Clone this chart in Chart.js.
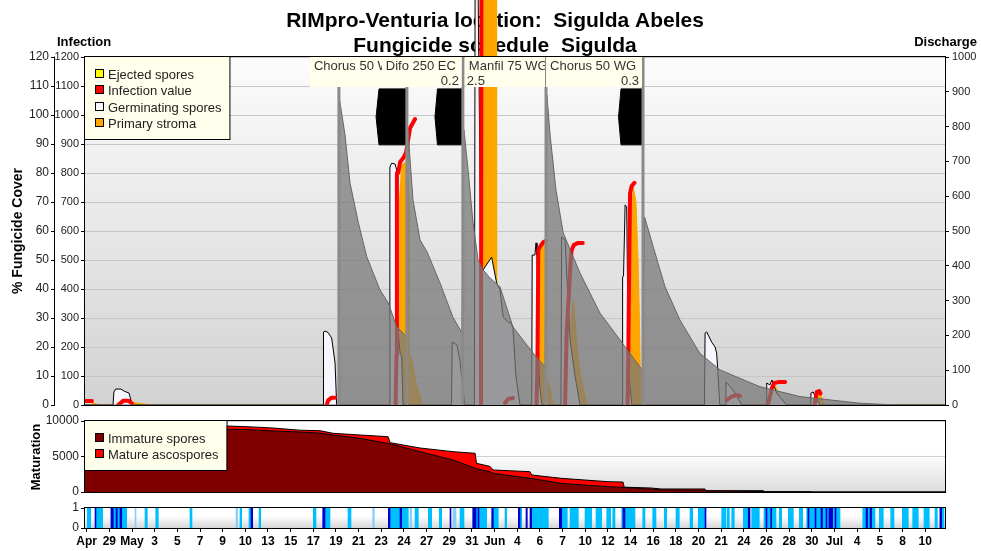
<!DOCTYPE html>
<html>
<head>
<meta charset="utf-8">
<title>RIMpro-Venturia location: Sigulda Abeles</title>
<script src="https://cdn.jsdelivr.net/npm/chart.js"></script>
<style>
  html, body { margin: 0; padding: 0; background: #fff; }
  #page { position: relative; width: 981px; height: 551px; overflow: hidden; }
  #page canvas { position: absolute; left: 0; }
  #mainChart { top: 0; }
  #matChart { top: 412px; }
  #stripChart { top: 496px; }
</style>
</head>
<body>
<div id="page">
  <canvas id="mainChart" width="981" height="420"></canvas>
  <canvas id="matChart" width="981" height="88"></canvas>
  <canvas id="stripChart" width="981" height="55"></canvas>
</div>
<script>
// ---------- time axis: one slot per printed date ----------
const dateLabels = ['Apr', '29', 'May', '3', '5', '7', '9', '10', '13', '15', '17', '19', '21', '23', '24', '27', '29', '31',
  'Jun', '4', '6', '7', '10', '12', '14', '16', '18', '20', '21', '24', '26', '28', '30', 'Jul', '4', '5', '8', '10'];
const X_MIN = -0.075, X_MAX = 37.877;

// ---------- fungicide applications ----------
const sprayDates = [11.13, 14.13, 16.6, 20.27, 24.55];
const products = ['Chorus 50 WG', 'Difo 250 EC', 'Manfil 75 WG', 'Chorus 50 WG'];
const doses = ['0.3', '0.2', '2.5', '0.3'];
const productSpray = [1, 2, 2, 4];

// ---------- infection panel: [slot, value] ----------
// % fungicide cover (left outer axis)
const fungicideCover = [[-0.075, 0], [11.12, 0], [11.16, 105.2], [11.40, 93.1], [11.62, 76.6], [11.99, 62.8], [12.36, 51.1],
  [12.94, 39.7], [13.31, 35.2], [13.68, 27.0], [14.12, 23.5], [14.18, 94.8], [14.27, 84.5], [14.40, 70.7], [14.71, 56.9],
  [15.02, 52.8], [15.59, 42.1], [16.16, 30.3], [16.56, 24.8], [16.65, 94.8], [16.83, 81.0], [17.05, 62.8], [17.27, 50.0],
  [17.49, 46.6], [17.80, 43.8], [18.24, 40.7], [18.81, 26.9], [19.70, 17.9], [20.23, 13.1], [20.31, 106.9], [20.45, 93.1],
  [20.71, 74.1], [21.03, 59.3], [21.77, 45.5], [22.65, 31.7], [23.54, 22.4], [24.42, 13.1], [24.53, 12.1], [24.62, 64.8],
  [25.00, 54.6], [25.52, 40.8], [26.18, 29.3], [27.06, 17.8], [27.95, 12.1], [29.71, 6.3], [31.48, 2.9], [34.13, 0.6],
  [35.75, 0], [37.877, 0]];

// infection axis (left inner)
const germinatingSpores = [[-0.075, 0],
  [1.16, 0], [1.20, 45], [1.28, 55], [1.51, 55], [1.65, 48], [1.87, 41], [1.95, 17], [2.04, 0],
  [10.43, 0], [10.45, 252], [10.52, 255], [10.65, 250], [10.81, 231], [10.96, 145], [11.03, 0],
  [13.35, 0], [13.38, 821], [13.46, 834], [13.61, 831], [13.68, 810], [13.70, 293], [13.83, 179], [13.90, 166], [13.96, 0],
  [16.10, 0], [16.13, 217], [16.34, 207], [16.47, 155], [16.61, 52], [16.69, 0],
  [17.11, 0], [17.14, 1450], [17.27, 1450], [17.40, 455], [17.87, 510], [18.09, 421], [18.24, 397], [18.38, 303],
  [18.61, 286], [18.71, 283], [18.81, 269], [18.94, 100], [19.12, 0],
  [19.64, 0], [19.66, 517], [19.78, 517], [19.83, 559], [19.87, 517], [19.93, 155], [20.00, 60], [20.09, 0],
  [20.93, 0], [20.96, 579], [21.11, 569], [21.18, 455], [21.33, 224], [21.55, 100], [21.77, 0],
  [23.64, 0], [23.65, 441], [23.69, 445], [23.76, 690], [23.83, 683], [23.90, 166], [23.98, 60], [24.06, 0],
  [27.26, 0], [27.29, 248], [27.36, 252], [27.58, 217], [27.73, 200], [27.80, 179], [27.84, 131], [27.94, 0],
  [28.19, 0], [28.21, 79], [28.52, 52], [28.91, 0],
  [29.99, 0], [30.01, 76], [30.15, 69], [30.24, 86], [30.45, 41], [30.89, 0],
  [31.94, 0], [31.96, 41], [32.06, 45], [32.14, 30], [32.36, 0],
  [37.877, 0]];

const infectionValue = [
  [-0.03, 14], [0.23, 14], [0.24, null],
  [1.39, 0], [1.62, 15], [1.84, 15], [1.99, 6], [2.00, null],
  [10.59, 0], [10.66, 17], [10.81, 25], [10.96, 25], [10.97, null],
  [13.63, 0], [13.67, 170], [13.69, 800], [13.75, 800], [13.83, 838], [13.97, 852], [14.09, 869], [14.19, 917],
  [14.27, 955], [14.49, 986], [14.50, null],
  [17.38, 0], [17.40, 100], [17.42, 1500], [17.49, 1550], [17.50, null],
  [18.46, 7], [18.60, 21], [18.81, 24], [18.82, null],
  [19.85, 0], [19.89, 131], [19.93, 534], [20.00, 545], [20.15, 562], [20.27, 566], [20.28, null],
  [21.11, 0], [21.18, 248], [21.36, 500], [21.40, 534], [21.50, 552], [21.69, 559], [21.89, 559], [21.90, null],
  [23.87, 0], [23.90, 166], [23.95, 550], [23.98, 731], [24.05, 755], [24.17, 766], [24.18, null],
  [28.24, 17], [28.46, 29], [28.69, 34], [28.83, 31], [28.84, null],
  [30.08, 5], [30.24, 59], [30.34, 76], [30.53, 79], [30.82, 79], [30.83, null],
  [32.12, 0], [32.22, 45], [32.33, 48], [32.38, 40]];

const primaryStroma = [[-0.075, 0],
  [0.23, 0], [0.28, 8], [0.45, 3], [0.50, 0],
  [1.78, 0], [1.83, 10], [2.13, 8], [2.35, 5], [2.71, 2], [2.75, 0],
  [13.78, 0], [13.80, 700], [13.90, 828], [14.05, 838], [14.19, 766], [14.23, 700], [14.24, 179], [14.36, 150],
  [14.53, 80], [14.71, 30], [14.85, 0],
  [17.47, 0], [17.48, 1500], [18.07, 1500], [18.09, 420], [18.15, 380], [18.24, 200], [18.37, 100], [18.50, 40], [18.68, 0],
  [19.96, 0], [19.97, 550], [20.08, 559], [20.15, 562], [20.22, 545], [20.23, 121], [20.40, 70], [20.59, 0],
  [21.33, 0], [21.38, 300], [21.48, 362], [21.64, 200], [21.77, 110], [22.07, 7], [22.12, 0],
  [23.98, 0], [24.00, 600], [24.12, 752], [24.24, 700], [24.33, 500], [24.39, 300], [24.43, 121], [24.46, 50], [24.51, 0],
  [30.24, 0], [30.29, 50], [30.37, 69], [30.46, 55], [30.60, 17], [30.69, 0],
  [32.23, 0], [32.27, 38], [32.36, 45], [32.45, 25], [32.53, 0],
  [37.877, 0]];

// discharge axis (right)
const ejectedSpores = [[-0.075, 0], [13.82, 0], [13.86, 30], [13.95, 0], [30.30, 0], [30.34, 12], [30.42, 0], [37.877, 0]];

// dark blocks ahead of the applications (upper and lower halves, meeting at the first value)
const coverBlockTop = [[12.77, 993], [12.90, 1090], [14.09, 1090], [14.09, 993], [14.10, null],
  [15.37, 993], [15.48, 1090], [16.58, 1090], [16.58, 993], [16.59, null],
  [23.47, 993], [23.58, 1090], [24.55, 1090], [24.55, 993]];
const coverBlockBottom = [[12.77, 993], [12.90, 897], [14.09, 897], [14.09, 993], [14.10, null],
  [15.37, 993], [15.48, 897], [16.58, 897], [16.58, 993], [16.59, null],
  [23.47, 993], [23.58, 897], [24.55, 897], [24.55, 993]];

// ---------- maturation panel ----------
const matDays = [-0.075, 6.19, 7.07, 8.22, 9.41, 10.30, 10.87, 12.06, 13.30, 13.39, 14.71, 16.17, 17.14, 17.20, 17.80,
  17.93, 19.56, 19.64, 20.93, 23.00, 23.67, 23.72, 24.91, 25.35, 27.28, 27.33, 29.85, 29.93, 31.92, 32.01, 37.877];
const immatureSpores = [9000, 8830, 8800, 8600, 8450, 8300, 8030, 7560, 6830, 6780, 5680, 4510, 3340, 3300, 2850,
  2630, 1930, 1900, 1220, 750, 650, 640, 400, 300, 250, 150, 60, 40, 0, 0, 0];
const matureAscospores = [400, 466, 397, 414, 250, 334, 238, 468, 959, 170, 517, 1166, 2111, 742, 750,
  469, 929, 494, 710, 701, 750, 40, 160, 123, 173, 33, 123, 2, 42, 0, 0];

// ---------- leaf wetness strip: [from, to] ----------
const wetDark = [[0.366, 0.410], [1.072, 1.174], [1.293, 1.350], [1.469, 1.545], [7.251, 7.326], [10.415, 10.516],
  [13.310, 13.385], [13.826, 13.901], [16.033, 16.077], [17.034, 17.180], [17.268, 17.312], [17.873, 17.944],
  [19.047, 19.122], [19.387, 19.444], [19.563, 19.638], [20.856, 20.962], [23.667, 23.755], [27.286, 27.330],
  [29.196, 29.271], [29.977, 30.021], [30.185, 30.229], [31.831, 31.875], [32.140, 32.184], [32.404, 32.471],
  [32.625, 32.669], [32.757, 32.921], [33.023, 33.067], [34.393, 34.459], [34.570, 34.636], [37.656, 37.731]];
const wetLight = [[0.026, 0.177], [0.410, 0.706], [1.072, 1.765], [2.573, 2.674], [3.045, 3.160], [4.559, 4.647],
  [6.765, 6.840], [7.162, 7.251], [7.604, 7.679], [10.000, 10.119], [10.516, 10.737], [11.531, 11.664],
  [13.385, 14.193], [14.489, 14.634], [15.075, 15.225], [15.560, 15.666], [16.474, 16.651], [17.180, 17.652],
  [17.944, 18.164], [18.460, 18.535], [19.122, 19.197], [19.638, 20.371], [20.962, 21.209], [21.329, 21.695],
  [21.990, 22.286], [22.476, 22.727], [22.948, 23.124], [23.213, 23.314], [23.610, 24.197], [24.537, 24.638],
  [24.978, 25.124], [25.490, 25.596], [26.006, 26.152], [26.624, 26.743], [26.990, 27.286], [28.023, 28.213],
  [28.270, 28.358], [28.464, 28.579], [28.976, 29.196], [29.346, 29.682], [29.889, 30.419], [30.565, 30.670],
  [30.962, 31.183], [31.447, 31.597], [31.774, 33.243], [34.245, 34.788], [34.977, 35.154], [35.481, 35.626],
  [35.993, 36.257], [36.451, 36.698], [36.950, 37.184], [37.436, 37.537], [37.656, 37.832]];
const wetPale = [[2.131, 2.176], [6.589, 6.664], [12.621, 12.692], [14.268, 14.343], [16.165, 16.297]];

// ---------- drawing ----------
const FONT = 'Arial, "Liberation Sans", sans-serif';
Chart.defaults.font.family = FONT;
Chart.defaults.color = '#222';

const INF_MAX = 1200, FUNG_MAX = 120, DIS_MAX = 1000;
// the value ranges run on above the frame so tall peaks reach into the heading
const HEADROOM = 1.1638;
const labelSide = ['before', 'before', 'after', 'before'];
const BOX_BG = '#ffffec';
const plainNumber = v => String(v);

function fixedAxis(width, ticks) {
  return {
    afterBuildTicks: s => { s.ticks = ticks.map(v => ({ value: v })); },
    afterFit: s => { s.width = width; s.paddingTop = 0; s.paddingBottom = 0; }
  };
}

function plotTop(chart, o) {
  return o.topScale ? chart.scales[o.topScale].getPixelForValue(o.topValue) : chart.chartArea.top;
}

function drawLegend(chart, top, labels) {
  const ctx = chart.ctx, left = chart.chartArea.left;
  ctx.save();
  ctx.font = '13px ' + FONT;
  const w = 23 + Math.max(...labels.map(l => ctx.measureText(l).width)) + 8;
  const h = 21.5 + 16.5 * (labels.length - 1) + 11;
  ctx.fillStyle = BOX_BG;
  ctx.fillRect(left, top, w, h);
  ctx.strokeStyle = '#000';
  ctx.lineWidth = 1;
  ctx.strokeRect(left - 0.5, top - 0.5, w + 1, h + 1);
  labels.forEach((lbl, i) => {
    const ds = chart.data.datasets.find(d => d.label === lbl);
    const base = Math.round(top + 21.5 + 16.5 * i);
    ctx.fillStyle = ds.backgroundColor;
    ctx.fillRect(left + 10, base - 10, 9, 9);
    ctx.strokeStyle = '#000';
    ctx.strokeRect(left + 10.5, base - 9.5, 8, 8);
    ctx.fillStyle = '#222';
    ctx.textAlign = 'left';
    ctx.textBaseline = 'alphabetic';
    ctx.fillText(lbl, left + 23, base);
  });
  ctx.restore();
}

function drawSprayLabels(chart, top) {
  const ctx = chart.ctx, x = chart.scales.x;
  ctx.save();
  ctx.font = '13px ' + FONT;
  ctx.textBaseline = 'alphabetic';
  products.forEach((name, i) => {
    const s = productSpray[i];
    const xs = x.getPixelForValue(sprayDates[s]);
    const w = ctx.measureText(name).width + 10;
    let l, r;
    if (labelSide[i] === 'before') { r = xs - 1; l = r - w; }
    else {
      l = xs + 2; r = l + w;
      if (s + 1 < sprayDates.length) r = Math.min(r, x.getPixelForValue(sprayDates[s + 1]) - 1);
    }
    ctx.save();
    ctx.beginPath();
    ctx.rect(l, top, r - l, 30);
    ctx.clip();
    ctx.fillStyle = BOX_BG;
    ctx.fillRect(l, top, r - l, 30);
    ctx.fillStyle = '#333';
    ctx.textAlign = 'left';
    ctx.fillText(name, l + 4, top + 13);
    if (labelSide[i] === 'before') { ctx.textAlign = 'right'; ctx.fillText(doses[i], r - 3, top + 28); }
    else { ctx.textAlign = 'left'; ctx.fillText(doses[i], l + 2, top + 28); }
    ctx.restore();
  });
  ctx.restore();
}

const panelPlugin = {
  id: 'panel',
  beforeDraw(chart, args, o) {
    const { ctx, chartArea: a } = chart;
    const top = plotTop(chart, o);
    const g = ctx.createLinearGradient(0, top, 0, a.bottom);
    o.gradient.forEach(s => g.addColorStop(s[0], s[1]));
    ctx.save();
    ctx.fillStyle = g;
    ctx.fillRect(a.left, top, a.right - a.left, a.bottom - top);
    ctx.restore();
  },
  beforeDatasetsDraw(chart, args, o) {
    const ctx = chart.ctx;
    (o.texts || []).forEach(t => {
      ctx.save();
      ctx.font = t.font;
      ctx.fillStyle = '#000';
      ctx.textAlign = t.align || 'left';
      ctx.textBaseline = t.rotate ? 'middle' : 'alphabetic';
      ctx.translate(t.x, t.y);
      if (t.rotate) ctx.rotate(-Math.PI / 2);
      ctx.fillText(t.text, 0, 0);
      ctx.restore();
    });
  },
  afterDatasetsDraw(chart, args, o) {
    const { ctx, chartArea: a } = chart;
    const top = plotTop(chart, o);
    if (o.sprayLabels) drawSprayLabels(chart, top);
    ctx.save();
    ctx.strokeStyle = '#000';
    ctx.lineWidth = 1;
    ctx.strokeRect(a.left - 0.5, top - 0.5, a.right - a.left + 1, a.bottom - top + 1);
    (o.outerAxes || []).forEach(id => {
      const sx = Math.round(chart.scales[id].right) - 0.5;
      ctx.beginPath();
      ctx.moveTo(sx, top - 0.5);
      ctx.lineTo(sx, a.bottom + 0.5);
      ctx.stroke();
    });
    ctx.restore();
    if (o.legend) drawLegend(chart, top, o.legend);
  }
};

const common = {
  responsive: false,
  animation: false,
  devicePixelRatio: 1,
  events: [],
  elements: { point: { radius: 0 }, line: { tension: 0 } }
};
const tickFont = size => ({ size: size, family: FONT });

// ----- infection / fungicide panel -----
const sprayLineData = sprayDates.flatMap(d => [[d, 0], [d, FUNG_MAX], [d, null]]);
const line = (extra) => Object.assign({ type: 'line', pointRadius: 0, xAxisID: 'x' }, extra);

new Chart(document.getElementById('mainChart'), {
  type: 'line',
  data: {
    datasets: [
      line({ label: 'Applications', data: sprayLineData, yAxisID: 'yFung', borderColor: '#8a8a8a', borderWidth: 3, fill: false, order: 0 }),
      line({ label: 'Fungicide cover', data: fungicideCover, yAxisID: 'yFung', borderColor: '#666', borderWidth: 1,
        backgroundColor: 'rgba(120,120,120,0.74)', fill: 'origin', order: 1 }),
      line({ label: 'Infection value', data: infectionValue, yAxisID: 'yInf', borderColor: '#ff0000', backgroundColor: '#ff0000',
        borderWidth: 4, borderCapStyle: 'round', borderJoinStyle: 'round', fill: false, order: 2 }),
      line({ label: 'Germinating spores', data: germinatingSpores, yAxisID: 'yInf', borderColor: '#000', borderWidth: 1,
        backgroundColor: '#f6f6ff', fill: 'origin', order: 3 }),
      line({ label: 'Primary stroma', data: primaryStroma, yAxisID: 'yInf', borderColor: '#ffa500', borderWidth: 1,
        backgroundColor: '#ffa500', fill: 'origin', order: 4 }),
      line({ label: 'Ejected spores', data: ejectedSpores, yAxisID: 'yDis', borderColor: 'rgba(0,0,0,0)', borderWidth: 1,
        backgroundColor: '#ffff00', fill: 'origin', order: 5 }),
      line({ label: 'Cover block', data: coverBlockTop, yAxisID: 'yInf', borderColor: '#000', borderWidth: 1,
        backgroundColor: '#000', fill: { value: coverBlockTop[0][1] }, order: 6 }),
      line({ label: 'Cover block lower', data: coverBlockBottom, yAxisID: 'yInf', borderColor: '#000', borderWidth: 1,
        backgroundColor: '#000', fill: { value: coverBlockBottom[0][1] }, order: 6 })
    ]
  },
  options: Object.assign({}, common, {
    layout: { padding: { top: 0, bottom: 15, left: 0, right: 0 } },
    scales: {
      x: { type: 'linear', min: X_MIN, max: X_MAX, display: false },
      yInf: Object.assign(fixedAxis(30, [0, 100, 200, 300, 400, 500, 600, 700, 800, 900, 1000, 1100, 1200]), {
        type: 'linear', position: 'left', weight: 0, min: 0, max: INF_MAX * HEADROOM,
        grid: { color: '#c6c6c6', lineWidth: 1, tickLength: 4, tickColor: '#000' },
        border: { display: false },
        ticks: { font: tickFont(11), color: '#222', padding: 2, callback: plainNumber }
      }),
      yFung: Object.assign(fixedAxis(55, [0, 10, 20, 30, 40, 50, 60, 70, 80, 90, 100, 110, 120]), {
        type: 'linear', position: 'left', weight: 1, min: 0, max: FUNG_MAX * HEADROOM,
        grid: { drawOnChartArea: false, tickLength: 4, tickColor: '#000' },
        border: { display: false },
        ticks: { font: tickFont(12), color: '#222', padding: 2, callback: plainNumber }
      }),
      yDis: Object.assign(fixedAxis(36, [0, 100, 200, 300, 400, 500, 600, 700, 800, 900, 1000]), {
        type: 'linear', position: 'right', min: 0, max: DIS_MAX * HEADROOM,
        grid: { drawOnChartArea: false, tickLength: 4, tickColor: '#000' },
        border: { display: false },
        ticks: { font: tickFont(11), color: '#222', padding: 3, callback: plainNumber }
      })
    },
    plugins: {
      legend: { display: false },
      tooltip: { enabled: false },
      panel: {
        gradient: [[0, '#fcfcfc'], [1, '#d2d2d2']],
        topScale: 'yInf', topValue: INF_MAX,
        outerAxes: ['yFung'],
        sprayLabels: true,
        legend: ['Ejected spores', 'Infection value', 'Germinating spores', 'Primary stroma'],
        texts: [
          { text: 'RIMpro-Venturia location:  Sigulda Abeles', x: 495, y: 27, font: 'bold 21px ' + FONT, align: 'center' },
          { text: 'Fungicide schedule  Sigulda', x: 495, y: 52, font: 'bold 21px ' + FONT, align: 'center' },
          { text: 'Infection', x: 57, y: 46, font: 'bold 13px ' + FONT, align: 'left' },
          { text: 'Discharge', x: 977, y: 46, font: 'bold 13px ' + FONT, align: 'right' },
          { text: '% Fungicide Cover', x: 18, y: 231, font: 'bold 14px ' + FONT, align: 'center', rotate: true }
        ]
      }
    }
  }),
  plugins: [panelPlugin]
});

// ----- maturation panel -----
new Chart(document.getElementById('matChart'), {
  type: 'line',
  data: {
    datasets: [
      { label: 'Immature spores', data: matDays.map((d, i) => ({ x: d, y: immatureSpores[i] })),
        backgroundColor: '#800000', borderColor: '#000', borderWidth: 1, fill: 'origin', pointRadius: 0 },
      { label: 'Mature ascospores', data: matDays.map((d, i) => ({ x: d, y: matureAscospores[i] })),
        backgroundColor: '#ff0000', borderColor: '#000', borderWidth: 1, fill: '-1', pointRadius: 0 }
    ]
  },
  options: Object.assign({}, common, {
    layout: { padding: { top: 9, bottom: 8, left: 0, right: 36 } },
    scales: {
      x: { type: 'linear', min: X_MIN, max: X_MAX, display: false },
      y: Object.assign(fixedAxis(85, [0, 5000, 10000]), {
        type: 'linear', stacked: true, min: 0, max: 10000,
        grid: { color: '#d0d0d0', tickLength: 4, tickColor: '#000' },
        border: { display: false },
        ticks: { font: tickFont(12), color: '#222', padding: 2, callback: plainNumber }
      })
    },
    plugins: {
      legend: { display: false },
      tooltip: { enabled: false },
      panel: {
        gradient: [[0, '#ffffff'], [0.45, '#ffffff'], [1, '#dcdcdc']],
        legend: ['Immature spores', 'Mature ascospores'],
        texts: [{ text: 'Maturation', x: 36, y: 45, font: 'bold 13px ' + FONT, align: 'center', rotate: true }]
      }
    }
  }),
  plugins: [panelPlugin]
});

// ----- wetness strip with the date axis -----
const spans = list => list.map(r => ({ x: r, y: 0.5 }));
new Chart(document.getElementById('stripChart'), {
  type: 'bar',
  data: {
    datasets: [
      { label: 'Wet (long)', data: spans(wetDark), backgroundColor: '#0000cc' },
      { label: 'Wet', data: spans(wetLight), backgroundColor: '#00bfff' },
      { label: 'Wet (short)', data: spans(wetPale), backgroundColor: '#87cefa' }
    ]
  },
  options: Object.assign({}, common, {
    indexAxis: 'y',
    datasets: { bar: { barThickness: 20, grouped: false, borderWidth: 0, borderSkipped: false } },
    layout: { padding: { top: 12, bottom: 0, left: 0, right: 36 } },
    scales: {
      x: {
        type: 'linear', min: X_MIN, max: X_MAX,
        afterBuildTicks: s => { s.ticks = dateLabels.map((_, i) => ({ value: i })); },
        afterFit: s => { s.height = 23; s.paddingLeft = 0; s.paddingRight = 0; },
        grid: { drawOnChartArea: false, tickLength: 4, tickColor: '#000', offset: false },
        border: { display: false },
        ticks: { autoSkip: false, maxRotation: 0, minRotation: 0, padding: 2, color: '#000',
          font: { size: 12, weight: 'bold', family: FONT }, callback: (v, i) => dateLabels[i] }
      },
      y: Object.assign(fixedAxis(85, [0, 1]), {
        type: 'linear', min: 0, max: 1, offset: false,
        grid: { drawOnChartArea: false, tickLength: 4, tickColor: '#000', offset: false },
        border: { display: false },
        ticks: { font: tickFont(12), color: '#222', padding: 2, callback: plainNumber }
      })
    },
    plugins: {
      legend: { display: false },
      tooltip: { enabled: false },
      panel: { gradient: [[0, '#ffffff'], [0.4, '#ffffff'], [1, '#d6d6d6']] }
    }
  }),
  plugins: [panelPlugin]
});
</script>
</body>
</html>
